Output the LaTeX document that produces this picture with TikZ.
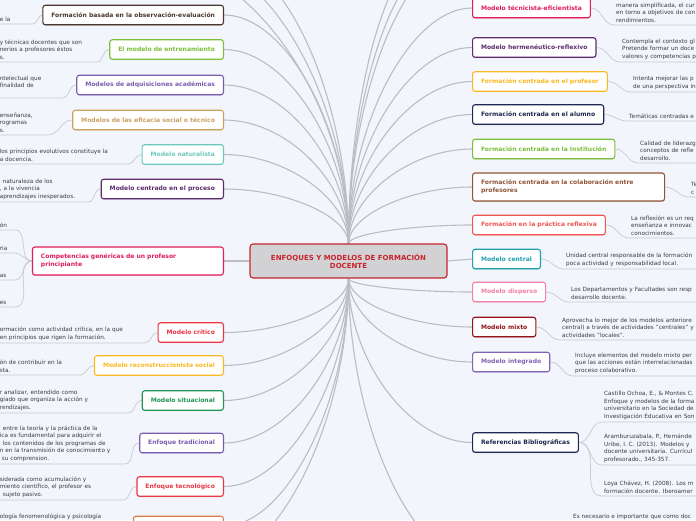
\documentclass[tikz,border=0pt]{standalone}
\usepackage{fontspec}
\setmainfont{DejaVu Sans}
\usetikzlibrary{calc, positioning, backgrounds, shadows}

\definecolor{bgblue}{RGB}{243,245,253}
\definecolor{linkgray}{RGB}{188,188,194}
\definecolor{undergray}{RGB}{200,201,208}
\definecolor{desctext}{RGB}{60,60,66}
\definecolor{rootfill}{RGB}{210,210,212}
\definecolor{rootred}{RGB}{200,35,45}
\definecolor{cbrowndark}{RGB}{75,55,45}
\definecolor{cgreen}{RGB}{125,190,60}
\definecolor{cpurple}{RGB}{120,95,175}
\definecolor{ctan}{RGB}{205,160,100}
\definecolor{cteal}{RGB}{110,200,190}
\definecolor{cplum}{RGB}{95,45,110}
\definecolor{cpink}{RGB}{225,30,90}
\definecolor{cred}{RGB}{235,55,70}
\definecolor{cyellow}{RGB}{250,185,35}
\definecolor{cgreendark}{RGB}{35,150,85}
\definecolor{corange}{RGB}{215,125,75}
\definecolor{cnavy}{RGB}{30,40,80}
\definecolor{cbrown}{RGB}{145,85,55}
\definecolor{csalmon}{RGB}{240,85,80}
\definecolor{ccyan}{RGB}{35,160,170}
\definecolor{crose}{RGB}{240,130,170}
\definecolor{cmaroon}{RGB}{150,20,25}
\definecolor{clilac}{RGB}{130,100,180}

\begin{document}
\begin{tikzpicture}[x=1pt, y=-1pt,
    topic/.style={draw=#1, text=#1, fill=white, line width=1.1pt, rounded corners=2.5pt,
      font=\fontsize{6.05}{8}\selectfont\bfseries, inner xsep=8.5pt, inner ysep=2pt,
      minimum height=19.5pt, align=left,
      drop shadow={shadow xshift=0pt, shadow yshift=-0.9pt, opacity=0.25, fill=#1}},
    desc/.style={font=\fontsize{5.75}{7.5}\selectfont, text=desctext, align=left,
      inner xsep=2pt, inner ysep=2.5pt},
    ldesc/.style={desc, anchor=south east, text width=#1},
    rdesc/.style={desc, anchor=south west, text width=150pt},
    link/.style={draw=linkgray, line width=1.1pt},
    under/.style={draw=undergray, line width=0.7pt}]

\useasboundingbox (0,0) rectangle (696,520);
\clip (0,0) rectangle (696,520);

% centro
\node[draw=rootred, text=rootred, fill=rootfill, line width=1.1pt, rounded corners=3pt,
  font=\fontsize{7}{8.2}\selectfont\bfseries, align=center, minimum width=197pt,
  minimum height=34pt] (root) at (348.5,261) {ENFOQUES Y MODELOS DE FORMACIÓN\\DOCENTE};

% ramas izquierda
\node[topic=cbrowndark, anchor=east] (basada) at (224,15) {Formación basada en la observación-evaluación};
\node[topic=cgreen, anchor=east] (entrenamiento) at (224,49.5) {El modelo de entrenamiento};
\node[topic=cpurple, anchor=east] (adquisiciones) at (224,85) {Modelos de adquisiciones académicas};
\node[topic=ctan, anchor=east] (eficacia) at (224,120) {Modelos de las eficacia social o técnico};
\node[topic=cteal, anchor=east] (naturalista) at (224,154.5) {Modelo naturalista};
\node[topic=cplum, anchor=east] (proceso) at (224,189) {Modelo centrado en el proceso};
\node[topic=cpink, anchor=east, text width=174pt, minimum height=28pt] (competencias) at (224,261) {Competencias genéricas de un profesor\\principiante};
\node[topic=cred, anchor=east] (critico) at (224,332.5) {Modelo crítico};
\node[topic=cyellow, anchor=east] (reconstruccionista) at (224,365.5) {Modelo reconstruccionista social};
\node[topic=cgreendark, anchor=east] (situacional) at (224,400.5) {Modelo situacional};
\node[topic=cpurple, anchor=east] (tradicional) at (224,443) {Enfoque tradicional};
\node[topic=cred, anchor=east] (tecnologico) at (224,486.5) {Enfoque tecnológico};
\node[topic=corange, anchor=east, minimum width=90pt] (fenomenologico) at (224,526) {};

% ramas derecha
\node[topic=cpink, anchor=west] (tecnicista) at (472,8) {Modelo técnicista-eficientista};
\node[topic=cplum, anchor=west] (hermeneutico) at (472,47.5) {Modelo hermenéutico-reflexivo};
\node[topic=cyellow, anchor=west] (profesor) at (472,81.5) {Formación centrada en el profesor};
\node[topic=cnavy, anchor=west] (alumno) at (472,114.5) {Formación centrada en el alumno};
\node[topic=cgreen, anchor=west] (institucion) at (472,149) {Formación centrada en la Institución};
\node[topic=cbrown, anchor=west, text width=175pt, minimum height=28pt] (colaboracion) at (472,187) {Formación centrada en la colaboración entre\\profesores};
\node[topic=csalmon, anchor=west] (practica) at (472,225) {Formación en la práctica reflexiva};
\node[topic=ccyan, anchor=west] (central) at (472,259) {Modelo central};
\node[topic=crose, anchor=west] (disperso) at (472,292) {Modelo disperso};
\node[topic=cmaroon, anchor=west] (mixto) at (472,327) {Modelo mixto};
\node[topic=clilac, anchor=west] (integrado) at (472,362) {Modelo integrado};
\node[topic=cnavy, anchor=west] (referencias) at (472,442.5) {Referencias Bibliográficas};

% textos izquierda
\node[ldesc=31pt] (d1) at (33,24) {e la};
\node[ldesc=95pt] (d2) at (97,62) {y técnicas docentes que son\\nerios a profesores éstos\\s.};
\node[ldesc=60pt] (d3) at (62,98) {ntelectual que\\finalidad de\\\mbox{}};
\node[ldesc=46pt] (d4) at (48,135) {enseñanza,\\rogramas\\s.};
\node[ldesc=126pt] (d5) at (128,164) {los principios evolutivos constituye la\\a docencia.};
\node[ldesc=86pt] (d6) at (88,202) {\hspace{3pt}naturaleza de los\\, a la vivencia\\aprendizajes inesperados.};
\node[ldesc=13pt] (c1) at (15,230) {ón};
\node[ldesc=13pt] (c2) at (15,253) {ria};
\node[ldesc=13pt] (c3) at (15,280) {as};
\node[ldesc=13pt] (c4) at (15,307) {es};
\node[ldesc=143pt] (d8) at (145,343) {ormación como actividad crítica, en la que\\en principios que rigen la formación.};
\node[ldesc=78pt] (d9) at (80,375) {ón de contribuir en la\\sta.};
\node[ldesc=126pt] (d10) at (128,413) {r analizar, entendido como\\giado que organiza la acción y\\rendizajes.};
\node[ldesc=123pt] (d11) at (125,464) {\hspace{3pt}entre la teoría y la práctica de la\\ica es fundamental para adquirir el\\\hspace{3pt}los contenidos de los programas de\\n en la transmisión de conocimiento y\\\hspace{2pt}su comprension.};
\node[ldesc=121pt] (d12) at (123,500) {siderada como acumulación y\\miento científico, el profesor es\\\hspace{3pt}sujeto pasivo.};
\node[ldesc=121pt] (d13) at (123,529) {ología fenomenológica y psicología\\\mbox{}};

% textos derecha
\node[rdesc] (r1) at (614,25) {manera simplificada, el cur\\en torno a objetivos de con\\rendimientos.};
\node[rdesc] (r2) at (620,62) {Contempla el contexto gl\\Pretende formar un doce\\valores y competencias p};
\node[rdesc] (r3) at (631,92) {Intenta mejorar las p\\de una perspectiva in};
\node[rdesc] (r4) at (627,121) {Temáticas centradas e};
\node[rdesc] (r5) at (638,163) {Calidad de liderazg\\conceptos de refle\\desarrollo.};
\node[rdesc] (r6) at (689,197) {Te\\c};
\node[rdesc] (r7) at (629,238) {La reflexión es un req\\enseñanza e innovac\\conocimientos.};
\node[rdesc] (r8) at (564,269) {Unidad central responsable de la formación\\poca actividad y responsabilidad local.};
\node[rdesc] (r9) at (569,302) {Los Departamentos y Facultades son resp\\desarrollo docente.};
\node[rdesc] (r10) at (560,340) {Aprovecha lo mejor de los modelos anteriore\\central) a través de actividades "centrales" y\\actividades "locales".};
\node[rdesc] (r11) at (573,376) {Incluye elementos del modelo mixto per\\que las acciones están interrelacionadas\\proceso colaborativo.};
\node[rdesc] (ref1) at (602,422) {Castillo Ochoa, E., \& Montes C.\\Enfoque y modelos de la forma\\universitario en la Sociedad de\\Investigación Educativa en Son};
\node[rdesc] (ref2) at (602,465) {Aramburuzabala, P., Hernánde\\Uribe, I. C. (2013). Modelos y\\docente universitaria. Currícul\\profesorado., 345-357.};
\node[rdesc] (ref3) at (602,496) {Loya Chávez, H. (2008). Los m\\formación docente. Iberoamer};
\node[desc, anchor=north west] (r13) at (571,511) {Es necesario e importante que como doc};

% ramas fuera del cuadro
\coordinate (up1) at (150,-40);
\coordinate (up2) at (190,-40);
\coordinate (up3) at (224,-40);
\coordinate (up4) at (423,-40);
\coordinate (up5) at (440,-40);
\coordinate (up6) at (456,-40);
\coordinate (down1) at (205,565);
\coordinate (down2) at (472,560);

\begin{pgfonlayer}{background}
  \fill[bgblue] (0,0) rectangle (696,520);
  \foreach \n in {basada,entrenamiento,adquisiciones,eficacia,naturalista,proceso}
    \draw[link] (root.north) .. controls ($(root.north)!0.5!(root.north|-\n.east)$) and ($(\n.east)!0.5!(root.north|-\n.east)$) .. (\n.east);
  \foreach \n in {critico,reconstruccionista,situacional,tradicional,tecnologico,fenomenologico}
    \draw[link] (root.south) .. controls ($(root.south)!0.5!(root.south|-\n.east)$) and ($(\n.east)!0.5!(root.south|-\n.east)$) .. (\n.east);
  \foreach \n in {tecnicista,hermeneutico,profesor,alumno,institucion,colaboracion,practica}
    \draw[link] (root.north) .. controls ($(root.north)!0.5!(root.north|-\n.west)$) and ($(\n.west)!0.5!(root.north|-\n.west)$) .. (\n.west);
  \foreach \n in {disperso,mixto,integrado,referencias}
    \draw[link] (root.south) .. controls ($(root.south)!0.5!(root.south|-\n.west)$) and ($(\n.west)!0.5!(root.south|-\n.west)$) .. (\n.west);
  \foreach \n in {up1,up2,up3,up4,up5,up6}
    \draw[link] (root.north) .. controls ($(root.north)!0.5!(root.north|-\n)$) and ($(\n)!0.5!(root.north|-\n)$) .. (\n);
  \foreach \n in {down1,down2}
    \draw[link] (root.south) .. controls ($(root.south)!0.5!(root.south|-\n)$) and ($(\n)!0.5!(root.south|-\n)$) .. (\n);
  \draw[link] (root.west) -- (competencias.east);
  \draw[link] (root.east) -- (central.west);

  % subrayados
  \foreach \n/\d in {basada/d1,entrenamiento/d2,adquisiciones/d3,eficacia/d4,naturalista/d5,proceso/d6,
      competencias/c1,competencias/c2,competencias/c3,competencias/c4,critico/d8,reconstruccionista/d9,
      situacional/d10,tradicional/d11,tecnologico/d12,fenomenologico/d13}
    \draw[under] (\n.west) to[out=180,in=0] (\d.south east) -- (\d.south west);
  \foreach \n/\d in {tecnicista/r1,hermeneutico/r2,profesor/r3,alumno/r4,institucion/r5,colaboracion/r6,
      practica/r7,central/r8,disperso/r9,mixto/r10,integrado/r11,referencias/ref1,referencias/ref2,referencias/ref3}
    \draw[under] (\n.east) to[out=0,in=180] (\d.south west) -- (\d.south east);
\end{pgfonlayer}
\end{tikzpicture}
\end{document}
